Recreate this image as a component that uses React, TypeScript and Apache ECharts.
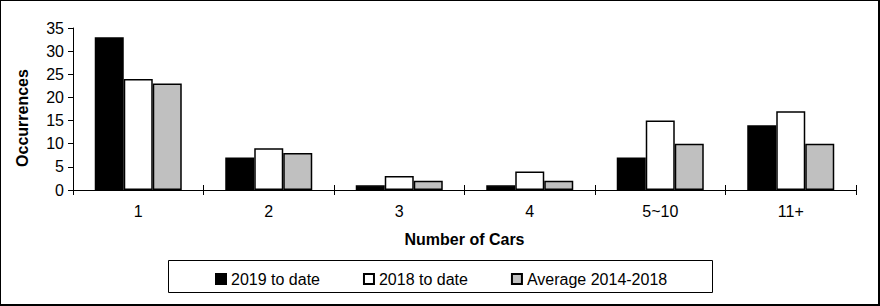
import React, { useEffect, useRef } from "react";
import * as echarts from "echarts";

const categories = ["1", "2", "3", "4", "5~10", "11+"];
const seriesNames = ["2019 to date", "2018 to date", "Average 2014-2018"];
const values2019 = [33, 7, 1, 1, 7, 14];
const values2018 = [24, 9, 3, 4, 15, 17];
const valuesAvg = [23, 8, 2, 2, 10, 10];
const seriesColors = ["#000000", "#ffffff", "#c0c0c0"];

const FONT = 'Arial, "Liberation Sans", sans-serif';

export default function App() {
  const ref = useRef<HTMLDivElement>(null);
  useEffect(() => {
    document.body.style.margin = "0";
    if (!ref.current) return;
    const chart = echarts.init(ref.current, undefined, { renderer: "svg" });
    const data = [values2019, values2018, valuesAvg];
    chart.setOption({
      animation: false,
      backgroundColor: "#ffffff",
      textStyle: { fontFamily: FONT, color: "#000" },
      grid: { left: 73, right: 24, top: 28, bottom: 116 },
      legend: {
        left: 215,
        top: 271,
        itemWidth: 10,
        itemHeight: 10,
        itemGap: 43,
        padding: 0,
        textStyle: { fontFamily: FONT, fontSize: 16, color: "#000" },
        data: seriesNames.map((n) => ({ name: n, icon: "rect" })),
      },
      graphic: [
        {
          type: "rect",
          shape: { x: 0, y: 0, width: 879, height: 305 },
          style: { fill: "none", stroke: "#000", lineWidth: 2 },
          silent: true,
          z: 100,
        },
        {
          type: "rect",
          shape: { x: 168.5, y: 260.5, width: 544, height: 32 },
          style: { fill: "none", stroke: "#000", lineWidth: 1 },
          silent: true,
        },
      ],
      xAxis: [
        {
          type: "category",
          data: categories,
          boundaryGap: true,
          name: "Number of Cars",
          nameLocation: "middle",
          nameGap: 41,
          nameTextStyle: { fontFamily: FONT, fontSize: 16, fontWeight: "bold", color: "#000" },
          axisLine: { lineStyle: { color: "#000", width: 1 } },
          axisTick: { show: true, length: 5, lineStyle: { color: "#000" } },
          axisLabel: { fontFamily: FONT, fontSize: 16, color: "#000", margin: 13 },
          splitLine: { show: false },
        },
        {
          type: "category",
          data: categories,
          position: "bottom",
          boundaryGap: true,
          axisLine: { show: false },
          axisTick: { show: true, inside: true, length: 5, lineStyle: { color: "#000" } },
          axisLabel: { show: false },
          splitLine: { show: false },
        },
      ],
      yAxis: {
        type: "value",
        min: 0,
        max: 35,
        interval: 5,
        name: "Occurrences",
        nameLocation: "middle",
        nameGap: 43,
        nameTextStyle: {
          fontFamily: FONT,
          fontSize: 16,
          fontWeight: "bold",
          color: "#000",
          padding: [0, 18, 0, 0],
        },
        axisLine: { show: true, lineStyle: { color: "#000", width: 1 } },
        axisTick: { show: true, length: 5, lineStyle: { color: "#000" } },
        axisLabel: { fontFamily: FONT, fontSize: 16, color: "#000", margin: 9 },
        splitLine: { show: false },
      },
      series: seriesNames.map((name, i) => ({
        name,
        type: "bar",
        data: data[i],
        barWidth: 29,
        barGap: "0%",
        itemStyle: { color: seriesColors[i], borderColor: "#000", borderWidth: 1.5 },
      })),
    });
    return () => chart.dispose();
  }, []);
  return <div ref={ref} style={{ width: 880, height: 306 }} />;
}
